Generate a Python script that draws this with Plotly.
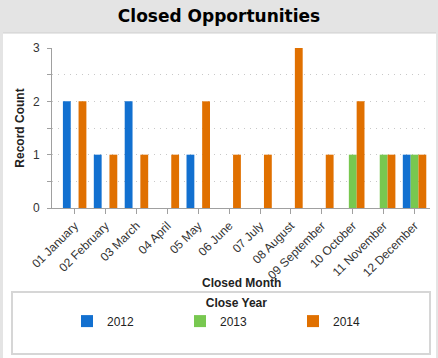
import plotly.graph_objects as go

months = ["01 January", "02 February", "03 March", "04 April", "05 May", "06 June",
          "07 July", "08 August", "09 September", "10 October", "11 November", "12 December"]
years = ["2012", "2013", "2014"]
counts_2012 = [2, 1, 2, 0, 1, 0, 0, 0, 0, 0, 0, 1]
counts_2013 = [0, 0, 0, 0, 0, 0, 0, 0, 0, 1, 1, 1]
counts_2014 = [2, 1, 1, 1, 2, 1, 1, 3, 1, 2, 1, 1]
series = [counts_2012, counts_2013, counts_2014]
colors = ["#1270d0", "#78c850", "#e07000"]
y_tick_vals = [0, 0.5, 1, 1.5, 2, 2.5, 3]
y_tick_text = ["0", "", "1", "", "2", "", "3"]
grid_vals = [0.5, 1, 1.5, 2, 2.5]

W, H = 438, 358
ml, mr, mt, mb = 52, 8, 48, 150
pw, ph = W - ml - mr, H - mt - mb

def px_x(p):
    return (p - ml) / pw

def px_y(p):
    return 1 - (p - mt) / ph

font_family = "Liberation Sans, Arial, sans-serif"

fig = go.Figure()
for name, vals, col in zip(years, series, colors):
    fig.add_trace(go.Bar(x=months, y=vals, name=name, marker=dict(color=col, line=dict(width=0))))

# invisible trace to host grid axis
fig.add_trace(go.Scatter(x=[months[0]], y=[0], yaxis="y2", showlegend=False,
                         mode="markers", marker=dict(opacity=0), hoverinfo="skip"))

fig.update_layout(
    width=W, height=H,
    margin=dict(l=ml, r=mr, t=mt, b=mb),
    paper_bgcolor="#e4e4e4",
    plot_bgcolor="rgba(0,0,0,0)",
    font=dict(family=font_family, size=11, color="#333333"),
    barmode="group", bargap=0.24, bargroupgap=0,
    title=dict(text="<b>Closed Opportunities</b>", x=0.5, xref="container", xanchor="center",
               y=1 - 16 / H, yref="container", yanchor="middle",
               font=dict(family="DejaVu Sans, sans-serif", size=17, color="#000000")),
    xaxis=dict(showline=True, linecolor="#a0a0a0", linewidth=1, ticks="outside", ticklen=5,
               tickcolor="#a0a0a0", tickangle=-45, tickfont=dict(size=12, color="#333333"),
               showgrid=False),
    yaxis=dict(range=[0, 3], tickvals=y_tick_vals, ticktext=y_tick_text, showline=True,
               linecolor="#a0a0a0", linewidth=1, ticks="outside", ticklen=4, tickcolor="#a0a0a0",
               showgrid=False, zeroline=False, tickfont=dict(size=12, color="#333333"),
               ticklabelstandoff=5,
               title=dict(text="<b>Record Count</b>", font=dict(size=12, color="#222222"), standoff=5)),
    yaxis2=dict(range=[0, 3], overlaying="y", tickvals=grid_vals, showticklabels=False, ticks="",
                showgrid=True, gridcolor="#c8c8c8", griddash="1px,5px", gridwidth=1, zeroline=False,
                showline=False),
    legend=dict(orientation="h", x=px_x(67), xanchor="left", y=px_y(291), yanchor="top",
                title=dict(text="<b>Close Year</b>", side="top center", font=dict(size=12, color="#222222")),
                font=dict(size=12, color="#222222"), entrywidth=68, entrywidthmode="pixels",
                bgcolor="rgba(0,0,0,0)", traceorder="normal"),
    showlegend=True,
    annotations=[
        dict(text="<b>Closed Month</b>", xref="paper", yref="paper", x=0.5, y=px_y(283),
             xanchor="center", yanchor="middle", showarrow=False,
             font=dict(size=12, color="#222222")),
    ],
    shapes=[
        dict(type="rect", xref="paper", yref="paper", x0=px_x(3), x1=px_x(436), y0=px_y(358), y1=px_y(33),
             fillcolor="white", line=dict(width=0), layer="below"),
        dict(type="line", xref="paper", yref="paper", x0=px_x(3), x1=px_x(436), y0=px_y(33), y1=px_y(33),
             line=dict(color="#cfcfcf", width=1), layer="below"),
        dict(type="rect", xref="paper", yref="paper", x0=px_x(12), x1=px_x(430), y0=px_y(354), y1=px_y(292),
             fillcolor="rgba(0,0,0,0)", line=dict(color="#d6d6d6", width=2), layer="below"),
    ],
)

fig.write_html("out.html", config={"displayModeBar": False},
               post_script="document.body.style.margin='0';document.body.style.overflow='hidden';")
